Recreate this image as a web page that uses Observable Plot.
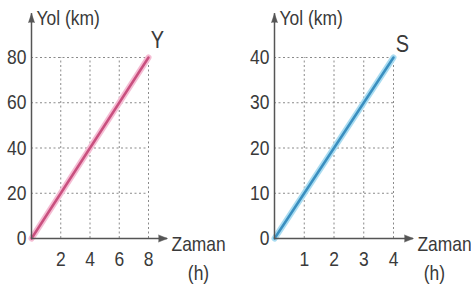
<!DOCTYPE html>
<html><head><meta charset="utf-8">
<script src="https://cdn.jsdelivr.net/npm/d3@7"></script>
<script src="https://cdn.jsdelivr.net/npm/@observablehq/plot@0.6"></script>
<style>
body{margin:0;background:#fff;}
#c{display:flex;width:471px;height:286px;}
#c svg{font-family:"Liberation Sans Narrow","Arial Narrow","Liberation Sans",sans-serif;overflow:visible;}
</style></head><body><div id="c"></div>
<script>
// Left chart: Y
const leftTime = [0, 8];
const leftDist = [0, 80];
const leftXTicks = [2, 4, 6, 8];
const leftYTicks = [0, 20, 40, 60, 80];
const leftName = "Y";
// Right chart: S
const rightTime = [0, 4];
const rightDist = [0, 40];
const rightXTicks = [1, 2, 3, 4];
const rightYTicks = [0, 10, 20, 30, 40];
const rightName = "S";
const yTitle = "Yol (km)";
const xTitle = "Zaman";
const xUnit = "(h)";

function panel(o) {
  const xmax = o.xTicks[o.xTicks.length - 1];
  const ymax = o.yTicks[o.yTicks.length - 1];
  const rows = o.time.map((t, i) => ({t, d: o.dist[i]}));
  const axis = "#555";
  const txt = "#3a3a3a";
  const fs = 21;
  return Plot.plot({
    width: o.width, height: 286,
    marginLeft: o.marginLeft, marginRight: o.width - o.marginLeft - o.plotW,
    marginTop: 57, marginBottom: 48,
    x: {domain: [0, xmax], axis: null},
    y: {domain: [0, ymax], axis: null},
    style: {background: "transparent", color: txt, fontSize: "21px"},
    marks: [
      Plot.ruleX(o.xTicks, {x: d => d, y1: 0, y2: ymax, stroke: "#8a8a8a", strokeWidth: 1, strokeDasharray: "2,2.5"}),
      Plot.ruleY(o.yTicks.filter(v => v > 0), {y: d => d, x1: 0, x2: xmax, stroke: "#8a8a8a", strokeWidth: 1, strokeDasharray: "2,2.5"}),
      Plot.line(rows, {x: "t", y: "d", stroke: o.halo, strokeWidth: 6}),
      Plot.line(rows, {x: "t", y: "d", stroke: o.core, strokeWidth: 2.5}),
      Plot.ruleY([0], {x1: 0, x2: o.xEnd, stroke: axis, strokeWidth: 1.5}),
      Plot.ruleX([0], {y1: 0, y2: o.yEnd, stroke: axis, strokeWidth: 1.5}),
      Plot.vector([0], {x: o.xEnd, y: 0, rotate: 90, length: 9, r: 3.5, shape: "spike", anchor: "end", fill: axis, stroke: axis, strokeWidth: 0.5}),
      Plot.vector([0], {x: 0, y: o.yEnd, rotate: 0, length: 9, r: 3, shape: "spike", anchor: "end", fill: axis, stroke: axis, strokeWidth: 0.5}),
      Plot.text(o.xTicks, {x: d => d, y: 0, dy: 21, text: d => String(d), fontSize: fs, fill: txt}),
      Plot.text(o.yTicks, {x: 0, y: d => d, dx: -5, textAnchor: "end", text: d => String(d), fontSize: fs, fill: txt}),
      Plot.text([yTitle], {x: 0, y: o.yEnd, dx: 5, dy: 5, textAnchor: "start", text: d => d, fontSize: fs, fill: txt}),
      Plot.text([xTitle], {x: o.xEnd, y: 0, dx: 4, dy: 6, textAnchor: "start", text: d => d, fontSize: fs, fill: txt}),
      Plot.text([xUnit], {x: o.xEnd, y: 0, dx: o.unitDx, dy: 35, text: d => d, fontSize: fs, fill: txt}),
      Plot.text([o.name], {x: xmax, y: ymax, dx: o.nameDx, dy: o.nameDy, text: d => d, fontSize: 24, fill: txt})
    ]
  });
}

const c = document.getElementById("c");
c.append(panel({width: 235, marginLeft: 31, plotW: 117, time: leftTime, dist: leftDist,
  xTicks: leftXTicks, yTicks: leftYTicks, name: leftName, halo: "#f5bcd3", core: "#c9507f",
  xEnd: 9.3, yEnd: 99.4, unitDx: 31, nameDx: 9, nameDy: -17}));
c.append(panel({width: 236, marginLeft: 39, plotW: 119, time: rightTime, dist: rightDist,
  xTicks: rightXTicks, yTicks: rightYTicks, name: rightName, halo: "#a9dcf1", core: "#3a8fc0",
  xEnd: 4.67, yEnd: 49.7, unitDx: 21, nameDx: 9, nameDy: -13}));
// condense text horizontally to mimic the narrow typeface
c.querySelectorAll("svg text").forEach(t => {
  const w = t.getComputedTextLength();
  if (w > 0) {
    t.setAttribute("textLength", (w * 0.83).toFixed(1));
    t.setAttribute("lengthAdjust", "spacingAndGlyphs");
  }
});
</script></body></html>
